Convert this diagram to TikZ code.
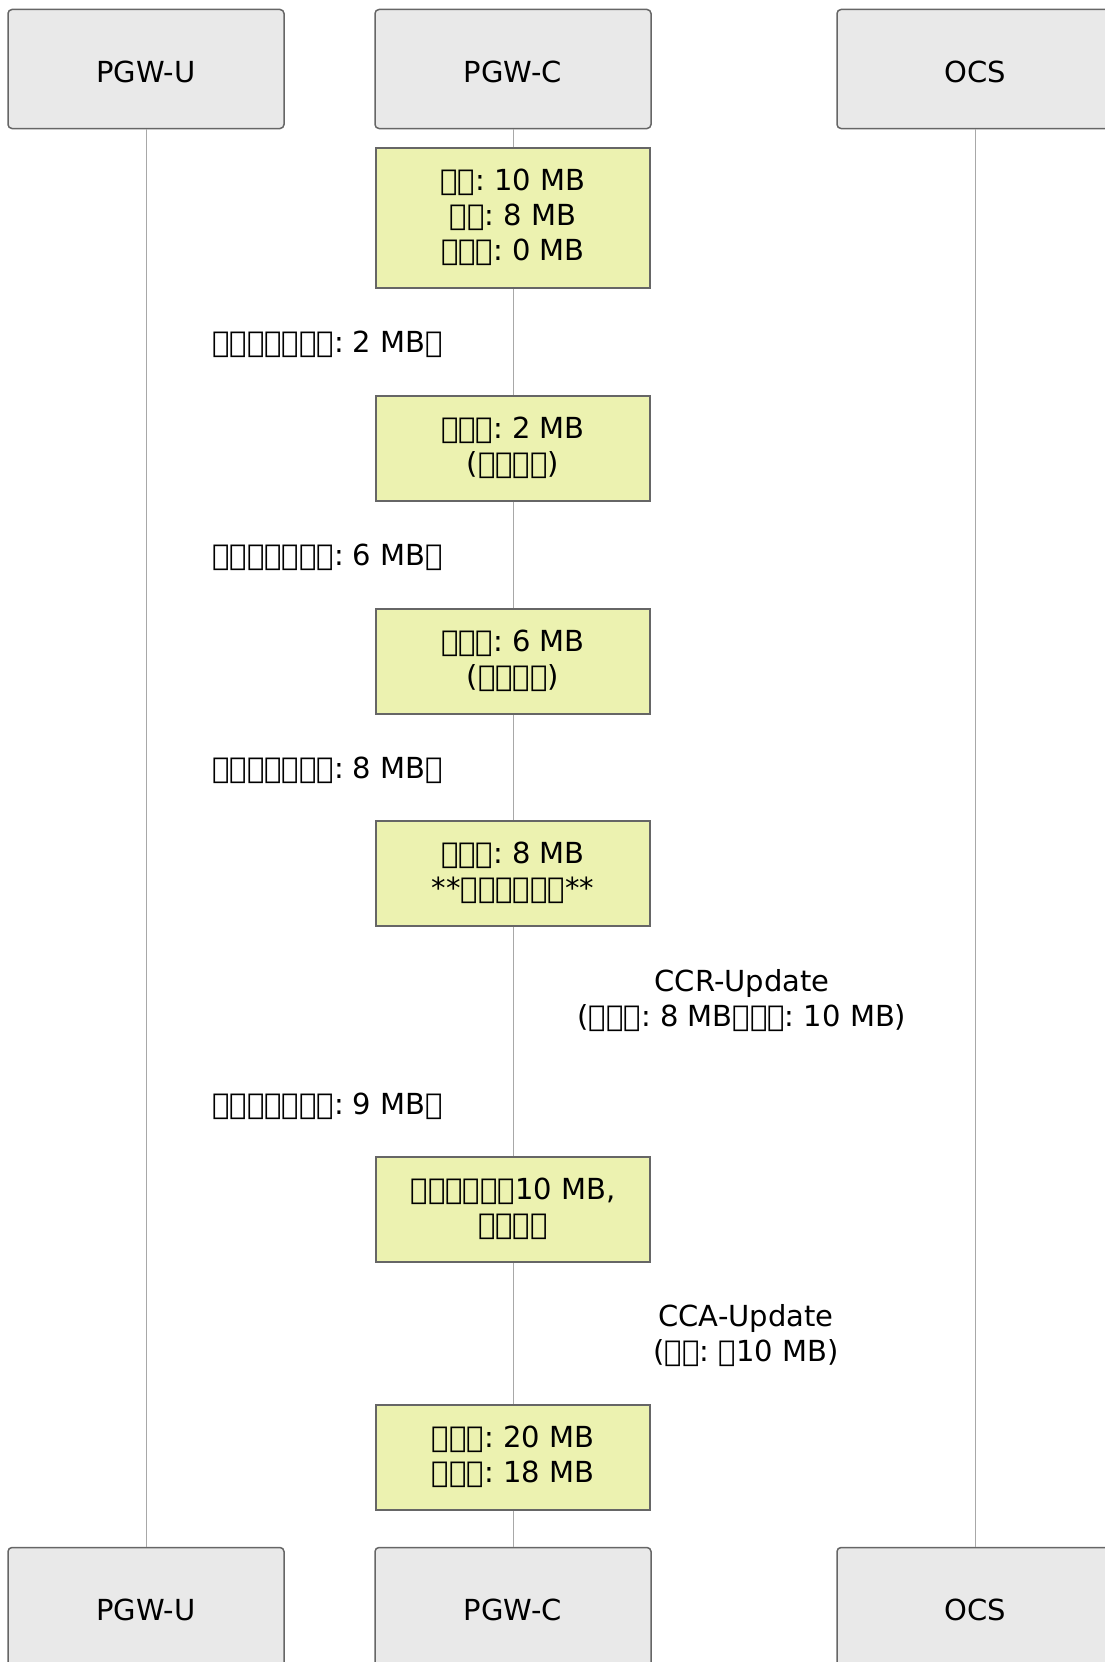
\documentclass[tikz,border=0pt]{standalone}
\usepackage{fontspec}
\setmainfont{DejaVu Sans}
\usepackage{tikz, graphicx}
\usetikzlibrary{positioning}
\definecolor{partfill}{RGB}{233,233,233}
\definecolor{partline}{RGB}{102,102,102}
\definecolor{notefill}{RGB}{236,242,176}
\definecolor{lifegray}{RGB}{168,168,168}
\newcommand{\tf}{\XeTeXglyph0 }
\newcommand{\umlfont}{\fontsize{29}{35}\selectfont\frenchspacing}

\begin{document}
\begin{tikzpicture}[x=1pt,y=-1pt,
	part/.style={draw=partline,fill=partfill,rounded corners=4pt,
		line width=1.5pt,minimum width=276pt,minimum height=119pt,
		text height=26pt,text depth=0pt,font=\umlfont},
	note/.style={draw=partline,fill=notefill,line width=1.5pt,
		minimum width=274pt,anchor=north,align=center,font=\umlfont},
	msg/.style={anchor=west,inner sep=0pt,font=\umlfont},
	reply/.style={align=center,inner sep=0pt,font=\umlfont},
	life/.style={draw=lifegray,line width=1pt}]
	\useasboundingbox (0,0) rectangle (1105,1662);
	\clip (0,0) rectangle (1105,1662);

	% participants, top and bottom
	\node[part] (U1) at (146,69) {PGW-U};
	\node[part] (C1) at (513,69) {PGW-C};
	\node[part] (O1) at (975,69) {OCS};
	\node[part] (U2) at (146,1607) {PGW-U};
	\node[part] (C2) at (513,1607) {PGW-C};
	\node[part] (O2) at (975,1607) {OCS};

	% lifelines
	\draw[life] (U1) -- (U2);
	\draw[life] (C1) -- (C2);
	\draw[life] (O1) -- (O2);

	% notes on PGW-C
	\node[note,minimum height=140pt] (N1) at (513,147)
		{\tf\tf: 10 MB\\\tf\tf: 8 MB\\\tf\tf\tf: 0 MB};
	\node[note,minimum height=105pt] (N2) at (513,395)
		{\tf\tf\tf: 2 MB\\(\tf\tf\tf\tf)};
	\node[note,minimum height=105pt] (N3) at (513,608)
		{\tf\tf\tf: 6 MB\\(\tf\tf\tf\tf)};
	\node[note,minimum height=105pt] (N4) at (513,820)
		{\tf\tf\tf: 8 MB\\**\tf\tf\tf\tf\tf\tf**};
	\node[note,minimum height=105pt] (N5) at (513,1156)
		{\tf\tf\tf\tf\tf\tf10 MB,\\\tf\tf\tf\tf};
	\node[note,minimum height=105pt] (N6) at (513,1404)
		{\tf\tf\tf: 20 MB\\\tf\tf\tf: 18 MB};

	% messages
	\node[msg] (M1) at (212,344) {\tf\tf\tf\tf\tf\tf\tf: 2 MB\tf};
	\node[msg] (M2) at (212,557) {\tf\tf\tf\tf\tf\tf\tf: 6 MB\tf};
	\node[msg] (M3) at (212,770) {\tf\tf\tf\tf\tf\tf\tf: 8 MB\tf};
	\node[reply] (R1) at (742,1001)
		{CCR-Update\\(\tf\tf\tf: 8 MB\tf\tf\tf: 10 MB)};
	\node[msg] (M4) at (212,1106) {\tf\tf\tf\tf\tf\tf\tf: 9 MB\tf};
	\node[reply] (R2) at (746,1336) {CCA-Update\\(\tf\tf: \tf10 MB)};
\end{tikzpicture}
\end{document}
